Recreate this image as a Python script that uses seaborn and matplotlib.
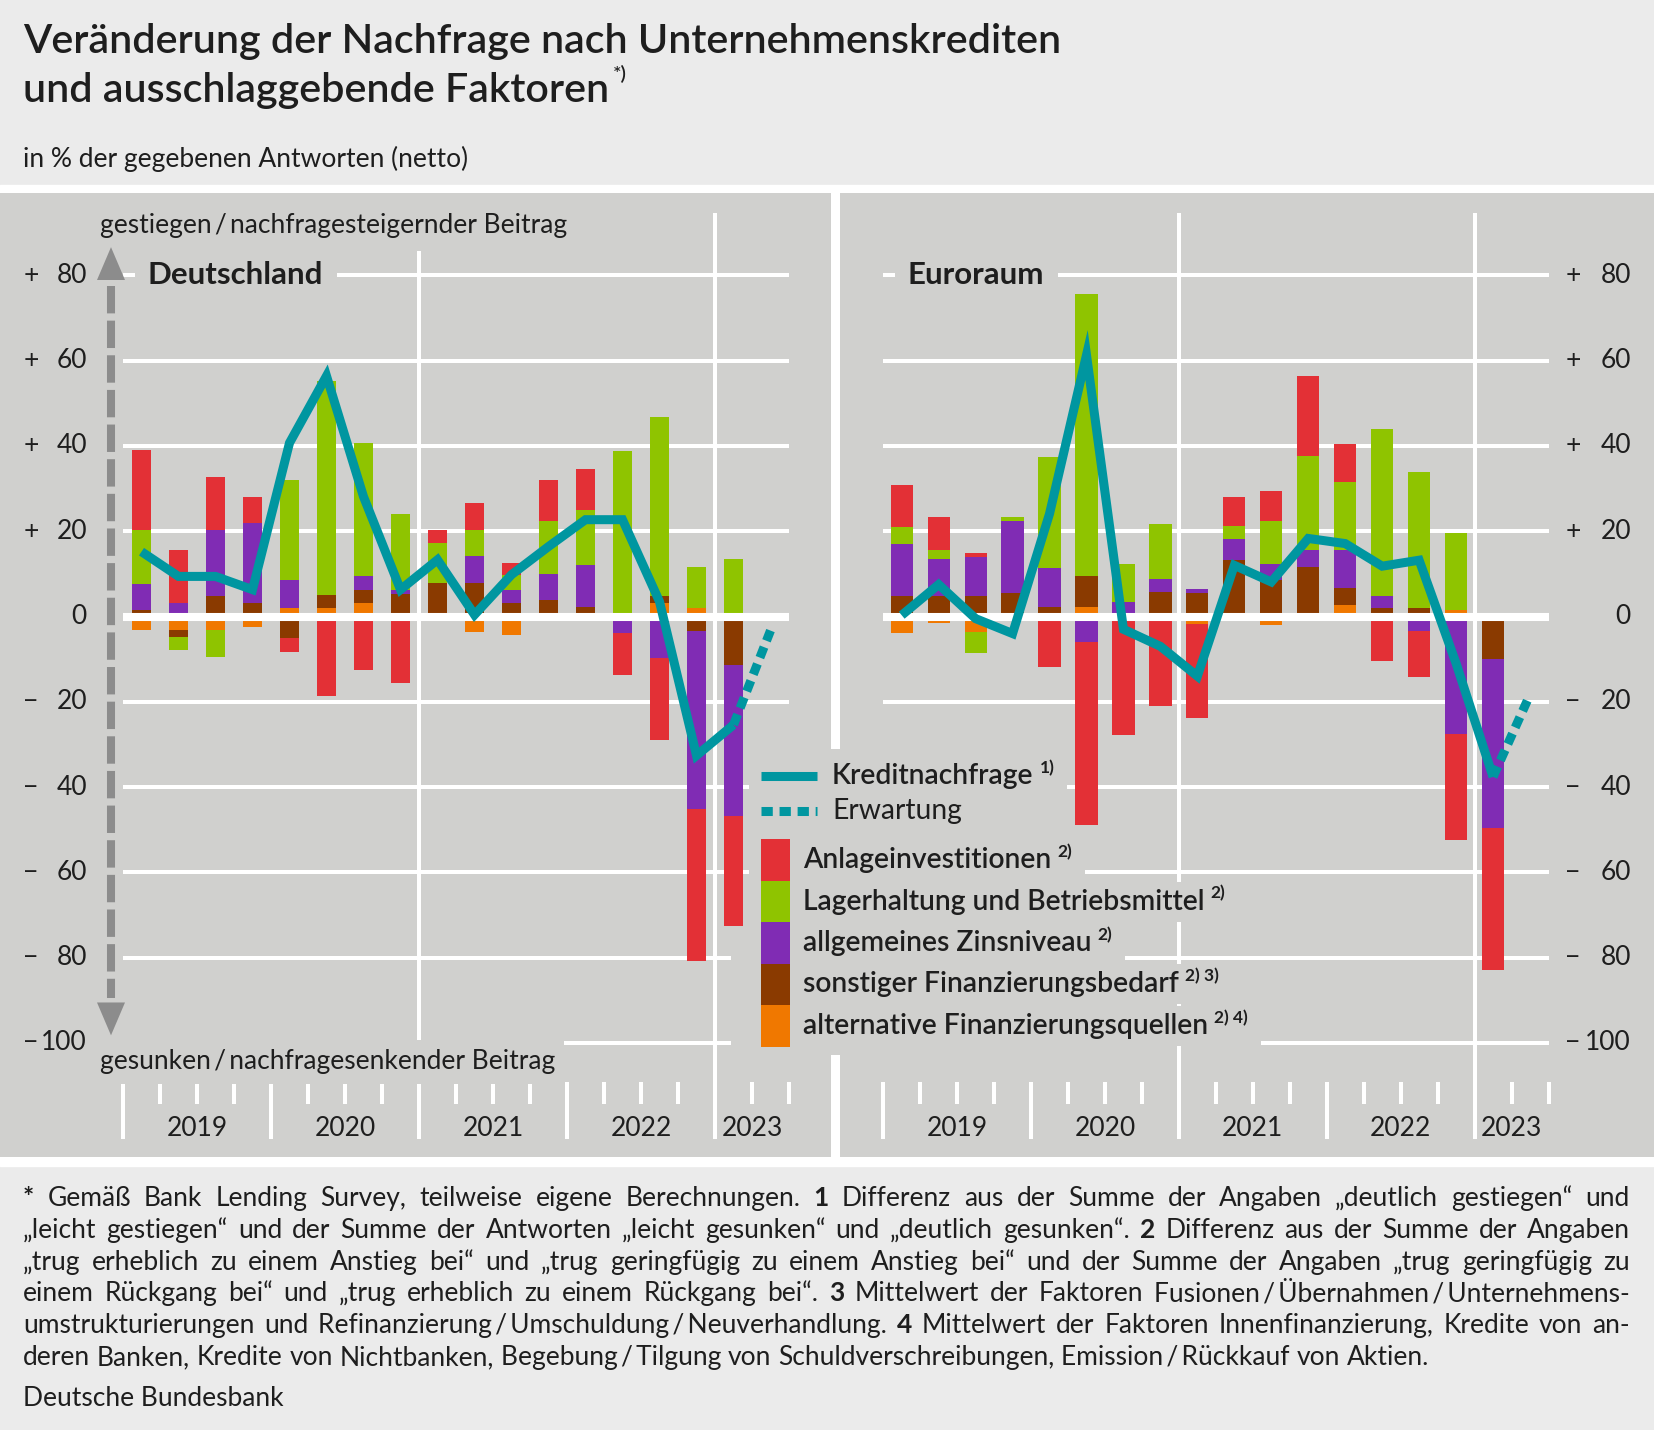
import matplotlib
matplotlib.use("Agg")
import numpy as np
import matplotlib.pyplot as plt
from matplotlib.patches import Rectangle
from matplotlib.lines import Line2D
import seaborn as sns


###########################
# data, quarters 2019 Q1 .. 2023 Q1
quarters = ["2019 Q1", "2019 Q2", "2019 Q3", "2019 Q4", "2020 Q1", "2020 Q2", "2020 Q3", "2020 Q4",
            "2021 Q1", "2021 Q2", "2021 Q3", "2021 Q4", "2022 Q1", "2022 Q2", "2022 Q3", "2022 Q4",
            "2023 Q1"]
outlook_quarter = ["2023 Q2"]
years = ["2019", "2020", "2021", "2022", "2023"]
y_ticks = [80, 60, 40, 20, 0, -20, -40, -60, -80, -100]

# Deutschland
de_anlage = [18.8, 12.5, 12.5, 6.2, -3.4, -18.7, -12.6, -15.6, 3.1, 6.3, 2.7, 9.4, 9.7, -9.7, -19.3, -35.6, -25.8]
de_lager = [12.5, -3.1, -6.3, 0, 23.5, 50.1, 31.3, 17.8, 9.4, 6.2, 3.5, 12.5, 12.9, 38.7, 42.0, 9.6, 13.5]
de_zins = [6.2, 3.1, 15.6, 18.8, 6.6, 0, 3.1, 1.0, 0, 6.3, 3.2, 6.2, 9.8, -3.9, -9.7, -41.8, -35.4]
de_sonst = [1.5, -1.6, 4.7, 3.1, -5.0, 3.0, 3.2, 5.3, 7.8, 7.8, 3.1, 3.8, 2.2, 0, 1.7, -3.3, -11.4]
de_alt = [-3.2, -3.2, -3.2, -2.5, 2.0, 2.0, 3.1, 0, -0.5, -3.7, -4.4, 0, 0, 0, 3.1, 2.0, 0]
de_kredit = [15.2, 9.4, 9.4, 6.3, 40.7, 56.4, 28.1, 6.3, 13.3, 0.4, 9.8, 16.4, 22.7, 22.7, 3.5, -32.6, -25.4]
de_erwartung = [-3.3]

# Euroraum
ea_anlage = [10.0, 7.9, 0.9, 0, -11.9, -43.0, -27.9, -21.0, -22.0, 6.9, 7.1, 18.9, 8.9, -10.4, -10.8, -25.0, -33.2]
ea_lager = [4.0, 2.1, -4.8, 1.0, 26.0, 66.0, 8.9, 12.9, 0, 3.1, 10.0, 22.1, 16.1, 39.0, 32.0, 18.0, 0]
ea_zins = [12.0, 8.5, 9.1, 17.0, 9.0, -6.0, 2.5, 2.9, 1.0, 4.9, 3.9, 4.0, 8.9, 3.0, -3.3, -26.5, -39.7]
ea_sonst = [4.9, 4.9, 4.9, 5.4, 2.3, 7.4, 0, 5.8, 5.4, 13.2, 8.5, 11.5, 4.0, 1.9, 1.9, -1.0, -9.5]
ea_alt = [-3.8, -1.5, -3.7, -0.5, 0, 2.2, 0.9, 0, -1.8, 0, -2.0, 0, 2.6, 0, 0, 1.5, -0.5]
ea_kredit = [0.3, 7.5, -0.5, -4.0, 24.1, 61.3, -3.0, -7.0, -14.0, 12.0, 8.1, 18.3, 17.1, 11.8, 13.2, -11.0, -37.6]
ea_erwartung = [-18.3]

factor_names = ["Anlageinvestitionen", "Lagerhaltung und Betriebsmittel", "allgemeines Zinsniveau",
                "sonstiger Finanzierungsbedarf", "alternative Finanzierungsquellen"]
factor_notes = ["2)", "2)", "2)", "2) 3)", "2) 4)"]


###########################
# style
W, H = 1654, 1430
BG = "#ebebeb"
PANEL = "#d0d0ce"
TEAL = "#0096a0"
ARROW = "#8c8c8c"
INK = "#1e1e1e"
RED, GREEN, PURPLE, BROWN, ORANGE = "#e33036", "#8fc400", "#802cb4", "#8a3a00", "#f07800"
factor_colors = [RED, GREEN, PURPLE, BROWN, ORANGE]
FS = 19
LEG_FS = 20.3

sns.set_style("white")
plt.rcParams["font.family"] = ["Lato", "DejaVu Sans"]

fig = plt.figure(figsize=(W / 100, H / 100), dpi=100, facecolor=BG)
renderer = fig.canvas.get_renderer()


def fx(x):
    return x / W


def fy(y):
    return 1 - y / H


# white frame around the two grey panels
fig.add_artist(Rectangle((0, fy(1166)), 1, (1166 - 185) / H, transform=fig.transFigure,
                         color="white", zorder=0))

# value -> pixel row: 0 at 616.5 px, 4.265 px per percentage point
Y0, PPU = 616.5, 4.265
YLIM = ((Y0 - 1157) / PPU, (Y0 - 193) / PPU)


def draw_panel(rect, c0, step, bar_w, name, anlage, lager, zins, sonst, alt, kredit, erwartung,
               ticks_left):
    x0, x1 = rect
    ax = fig.add_axes([fx(x0), fy(1157), (x1 - x0) / W, (1157 - 193) / H])
    ax.set_facecolor(PANEL)
    for s in ax.spines.values():
        s.set_visible(False)

    def px(p):
        return (p - c0) / step

    n = len(quarters)
    pos = np.arange(n)

    # grid
    ax.hlines([v for v in y_ticks if v != 0], -0.5, n + 0.5, colors="white", lw=2.9, zorder=1)
    ax.vlines([7.5, 15.5], -122.5, 94.6, colors="white", lw=2.9, zorder=1)
    for k in range(n + 2):
        b = k - 0.5
        if b in (7.5, 15.5):
            continue
        low = -122.5 if k % 4 == 0 else -114.3
        ax.vlines(b, low, -109.1, colors="white", lw=2.9, zorder=1)

    # stacked bars, positive and negative parts separately
    pos_base = np.zeros(n)
    neg_base = np.zeros(n)
    for vals, col in [(alt, ORANGE), (sonst, BROWN), (zins, PURPLE), (lager, GREEN), (anlage, RED)]:
        v = np.array(vals, dtype=float)
        bottom = np.where(v >= 0, pos_base, neg_base)
        ax.bar(pos, v, bottom=bottom, width=bar_w, color=col, linewidth=0, zorder=2)
        pos_base += np.clip(v, 0, None)
        neg_base += np.clip(v, None, 0)

    ax.hlines(0, -0.5, n + 0.5, colors="white", lw=5.8, zorder=2.5)

    # credit demand and expectation
    sns.lineplot(x=pos, y=kredit, ax=ax, color=TEAL, linewidth=6.5, zorder=4,
                 solid_joinstyle="miter", solid_capstyle="butt")
    sns.lineplot(x=[n - 1, n], y=[kredit[-1]] + erwartung, ax=ax, color=TEAL, linewidth=6.5,
                 zorder=4, linestyle=(0, (1.25, 0.75)), dash_capstyle="butt")

    # y tick labels
    if ticks_left:
        sx, nx = px(31), px(87)
    else:
        sx, nx = px(1573), px(1631)
    for v in y_ticks:
        sign = "+" if v > 0 else ("\u2212" if v < 0 else "")
        ax.text(sx, v, sign, ha="center", va="center", fontsize=FS, color=INK)
        ax.text(nx, v, str(abs(v)), ha="right", va="center", fontsize=FS, color=INK)

    # year labels
    all_q = quarters + outlook_quarter
    for yr in years:
        idx = [i for i, q in enumerate(all_q) if q.startswith(yr)]
        ax.text(np.mean(idx), (Y0 - 1128) / PPU, yr, ha="center", va="center",
                fontsize=FS, color=INK)

    ax.text(px(148 if ticks_left else 908), 80, name, ha="left", va="center", fontsize=22.5,
            fontweight="bold", color=INK, zorder=1.5,
            bbox=dict(boxstyle="square,pad=0.42", fc=PANEL, ec="none"))

    ax.set_xlim(px(x0), px(x1))
    ax.set_ylim(*YLIM)
    ax.set_xticks([])
    ax.set_yticks([])
    ax.set_xlabel("")
    ax.set_ylabel("")
    return ax, px


ax_de, px_de = draw_panel((0, 831), 141.5, 37.0, 0.5, "Deutschland", de_anlage, de_lager, de_zins,
                          de_sonst, de_alt, de_kredit, de_erwartung, True)
ax_ea, px_ea = draw_panel((840, 1654), 901.7, 36.96, 0.6, "Euroraum", ea_anlage, ea_lager, ea_zins,
                          ea_sonst, ea_alt, ea_kredit, ea_erwartung, False)

# direction arrow and its labels (Deutschland panel)
ax = ax_de
ax_x = px_de(111)
hw = 14 / 37.0
ax.plot([ax_x, ax_x], [77.5, -89.5], color=ARROW, lw=5.8, dashes=(3.4, 0.9),
        solid_capstyle="butt", dash_capstyle="butt", zorder=3)
ax.fill([ax_x - hw, ax_x + hw, ax_x], [78.9, 78.9, 86.6], color=ARROW, lw=0, zorder=3)
ax.fill([ax_x - hw, ax_x + hw, ax_x], [-90.5, -90.5, -98.2], color=ARROW, lw=0, zorder=3)
ax.text(px_de(100), (Y0 - 225) / PPU, "gestiegen\u2009/\u2009nachfragesteigernder Beitrag",
        ha="left", va="center", fontsize=FS, color=INK, zorder=1.5,
        bbox=dict(boxstyle="square,pad=0.5", fc=PANEL, ec="none"))
ax.text(px_de(100), (Y0 - 1062) / PPU, "gesunken\u2009/\u2009nachfragesenkender Beitrag",
        ha="left", va="center", fontsize=FS, color=INK, zorder=1.5,
        bbox=dict(boxstyle="square,pad=0.35", fc=PANEL, ec="none"))


###########################
# legend, spanning both panels
def fig_rect(x0, y0, x1, y1, color, z):
    fig.add_artist(Rectangle((fx(x0), fy(y1)), (x1 - x0) / W, (y1 - y0) / H,
                             transform=fig.transFigure, color=color, lw=0, zorder=z))


fig_rect(749, 749, 845, 1055, PANEL, 1)
fig_rect(731, 930, 749, 1055, PANEL, 1)


def legend_text(x, yc, label, note, weight):
    t = fig.text(fx(x), fy(yc + 8), label, fontsize=LEG_FS, fontweight=weight, color=INK,
                 va="baseline", zorder=3)
    bb = t.get_window_extent(renderer)
    right = bb.x1
    if note:
        s = fig.text(fx(bb.x1 + 6), fy(yc - 3), note, fontsize=12.5, fontweight="bold", color=INK,
                     va="baseline", zorder=3)
        right = s.get_window_extent(renderer).x1
    fig_rect(x - 13, yc - 20, right + 13, yc + 20, PANEL, 1.5)


fig.add_artist(Line2D([fx(761), fx(817)], [fy(776), fy(776)], transform=fig.transFigure,
                      color=TEAL, lw=6.5, solid_capstyle="butt", zorder=2))
fig.add_artist(Line2D([fx(761), fx(817)], [fy(811), fy(811)], transform=fig.transFigure,
                      color=TEAL, lw=6.5, linestyle=(0, (1.25, 0.75)), dash_capstyle="butt", zorder=2))
legend_text(832, 776, "Kreditnachfrage", "1)", "semibold")
legend_text(832, 811, "Erwartung", None, "normal")

for i, (lab, note, col) in enumerate(zip(factor_names, factor_notes, factor_colors)):
    top = 839.4 + i * 41.45
    fig_rect(761, top, 790, top + 41.45, col, 2)
    legend_text(803, top + 20.7, lab, note, "semibold")


###########################
# title, subtitle, footnotes
fig.text(fx(23), fy(53), "Veränderung der Nachfrage nach Unternehmenskrediten", fontsize=29.7,
         fontweight="semibold", color=INK, va="baseline")
t2 = fig.text(fx(23), fy(102), "und ausschlaggebende Faktoren", fontsize=29.7,
              fontweight="semibold", color=INK, va="baseline")
bb = t2.get_window_extent(renderer)
fig.text(fx(bb.x1 + 4), fy(80), "*)", fontsize=14.5, fontweight="semibold", color=INK, va="baseline")
fig.text(fx(23), fy(167), "in % der gegebenen Antworten (netto)", fontsize=19, color=INK,
         va="baseline")

foot_lines = [
    "* Gemäß Bank Lending Survey, teilweise eigene Berechnungen. 1 Differenz aus der Summe der Angaben „deutlich gestiegen“ und",
    "„leicht gestiegen“ und der Summe der Antworten „leicht gesunken“ und „deutlich gesunken“. 2 Differenz aus der Summe der Angaben",
    "„trug erheblich zu einem Anstieg bei“ und „trug geringfügig zu einem Anstieg bei“ und der Summe der Angaben „trug geringfügig zu",
    "einem Rückgang bei“ und „trug erheblich zu einem Rückgang bei“. 3 Mittelwert der Faktoren Fusionen\u2009/\u2009Übernahmen\u2009/\u2009Unternehmens-",
    "umstrukturierungen und Refinanzierung\u2009/\u2009Umschuldung\u2009/\u2009Neuverhandlung. 4 Mittelwert der Faktoren Innenfinanzierung, Kredite von an-",
    "deren Banken, Kredite von Nichtbanken, Begebung\u2009/\u2009Tilgung von Schuldverschreibungen, Emission\u2009/\u2009Rückkauf von Aktien.",
]
bold_marks = {"*", "1", "2", "3", "4"}
X_L, X_R = 23, 1630

# pick the footnote size so the widest justified line keeps a normal word spacing
probe = [fig.text(0, 0, ln, fontsize=10) for ln in foot_lines[:-1]]
widest = max(p.get_window_extent(renderer).width for p in probe)
for p in probe:
    p.remove()
FOOT_FS = min(10 * (X_R - X_L) / widest * 0.99, 19)

for j, line in enumerate(foot_lines):
    base = 1206 + j * 31.8
    words = line.split(" ")
    texts = [fig.text(0, fy(base), w, fontsize=FOOT_FS, color=INK, va="baseline",
                      fontweight="bold" if w in bold_marks else "normal") for w in words]
    widths = [t.get_window_extent(renderer).width for t in texts]
    if j < len(foot_lines) - 1:
        gap = (X_R - X_L - sum(widths)) / (len(words) - 1)
    else:
        gap = FOOT_FS * 0.36
    x = X_L
    for t, w in zip(texts, widths):
        t.set_x(fx(x))
        x += w + gap

fig.text(fx(23), fy(1406), "Deutsche Bundesbank", fontsize=FOOT_FS, color=INK, va="baseline")

fig.savefig("out.png", dpi=100, facecolor=BG)
